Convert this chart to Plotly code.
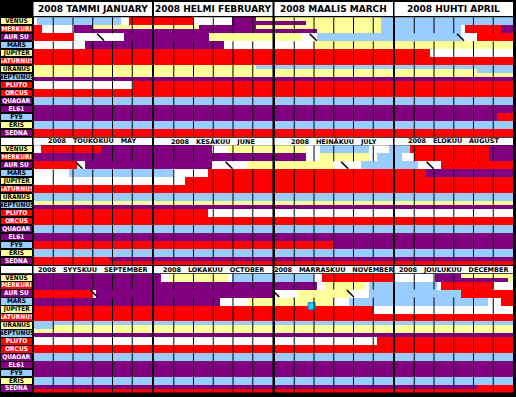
import plotly.graph_objects as go

W, H = 516, 397
COLORS = {"R": "#FF0000", "P": "#800080", "L": "#99CCFF", "Y": "#FFFF99", "W": "#FFFFFF"}

YEAR = "2008"
MONTHS_FI = ["TAMMI", "HELMI", "MAALIS", "HUHTI", "TOUKOKUU", "KESÄKUU",
             "HEINÄKUU", "ELOKUU", "SYYSKUU", "LOKAKUU", "MARRASKUU", "JOULUKUU"]
MONTHS_EN = ["JANUARY", "FEBRUARY", "MARCH", "APRIL", "MAY", "JUNE",
             "JULY", "AUGUST", "SEPTEMBER", "OCTOBER", "NOVEMBER", "DECEMBER"]
PLANETS = ["VENUS", "MERKURI", "AUR SU", "MARS", "JUPITER", "SATURNUS", "URANUS",
           "NEPTUNUS", "PLUTO", "ORCUS", "QUAOAR", "EL61", "FY9", "ERIS", "SEDNA"]
LABEL_BG = ["Y", "R", "P", "L", "Y", "R", "Y", "L", "R", "R", "P", "P", "L", "Y", "P"]

# segments per month: "colour start ..." (day units 0..30), "top | bottom" when halves differ
VENUS = ["W0 L0.8 W21.9 R24", "R0 W9.8 P19.8 Y25.7 | R0 W9.8 P19.8", "Y0 L26.75 | P0 Y7.75 L26.75",
         "L0", "W0 R1.8 P16.9", "P0 W14.8 Y18.75", "Y0 W7.75 L11.5 W23.8 L28.8", "L0 R3.75 P23.75",
         "P0", "P0 W1.75 Y3.75 W18.75 L19.8", "L0 W9.8 R11.9", "W0 P10 Y16.75 | W0 P10 Y28.6"]
MERKURI = ["R0 W2 P10 Y15 | R0 W2 P10", "Y0 P11.5 Y25.7 | P0", "Y0 L26.75 | P0 Y10.7 L26.75",
           "L0 W16.7 R17.75 P26.75", "P0", "P0", "P0 W7.75 Y11.5 W23.8 L25.7", "L0 W1.75 R4.8 P23.75",
           "P0", "P0", "P0 W10.7 Y12.75 W22.75 L23.8", "L0 W10.7 R11.75 W24.8"]
AUR_SU = ["R0 W10 P22.9", "P0 Y14", "Y0 W6.9 L10.7", "L0 W16.7 R20.7", "R0 W11 P12.9",
          "P0 W14.8 Y23.75", "Y0 W14.8 L21.75", "L0 W5.7 R11.75", "R0 W15 P15.8", "P0",
          "W0 Y5.7 W19 L23.8", "L0 R16.75"]
MARS = ["W0 P12.9", "P0 W17.75", "W0 Y9.8", "Y0", "W0 L8.9", "L0 W4.8 R13.6", "R0", "R0 P7.75",
        "P0", "P0 W16.75 Y23.75", "Y0 W14.8 L18.8", "L0 W23.6 R26.75"]
JUPITER = ["R0", "R0", "R0", "R0 W8.75", "W0", "W0 R7.75", "R0", "R0", "R0", "R0", "R0 W24.8", "W0"]
SATURNUS = ["R0"] * 12
URANUS = ["Y0", "Y0 L25.7 | Y0", "L0 | Y0", "L0 | Y0 L20.7", "L0", "L0", "L0", "L0",
          "L0 | L0 Y5", "L0 | Y0", "L0 | Y0", "L0 | Y0"]
NEPTUNUS = ["Y0 | P0"] * 12
PLUTO = ["W0 R25", "R0", "R0", "R0", "R0", "R0 W13.6", "W0", "W0", "W0", "W0", "W0 R25.7", "R0"]
ORCUS = ["R0"] * 12
QUAOAR = ["L0"] * 12
EL61 = ["P0"] * 12
FY9 = ["P0", "P0", "P0", "P0 R25.8", "R0", "R0", "R0 P14.8", "P0", "P0", "P0", "P0", "P0"]
ERIS = ["L0"] * 12
SEDNA = ["R0", "R0", "R0", "R0", "R0 P19 | R0", "P0 | R0", "P0 | R0", "P0 | R0", "P0 | R0",
         "P0 | R0", "P0 | R0", "P0 R20.7 | R0"]
ROWS = [VENUS, MERKURI, AUR_SU, MARS, JUPITER, SATURNUS, URANUS, NEPTUNUS, PLUTO, ORCUS,
        QUAOAR, EL61, FY9, ERIS, SEDNA]

HATCH_MONTH = [0, 2, 3, 4, 5, 6, 7, 8, 10, 10]
HATCH_DAY = [17, 9.8, 16.7, 11.5, 19, 17.75, 9, 15.3, 0.3, 19.2]
MARK_MONTH = [10]
MARK_DAY = [9.4]
MARK_ROW = [4.1]

SPAN = 30
GRID_DAYS = [5, 10, 15, 20, 25]

# ---- geometry (pixels) ----
PANEL_X0 = [33.5, 154, 274.5, 394.5]
PANEL_W = 118.5
BAND_Y = [(17.3, 137.3), (145.3, 265.3), (273.7, 392.5)]
HEAD_Y = [(2, 16), (137.8, 145), (266, 273.2)]


def parse(s):
    out = []
    toks = s.split()
    for i, t in enumerate(toks):
        c, a = t[0], float(t[1:])
        b = float(toks[i + 1][1:]) if i + 1 < len(toks) else SPAN
        out.append((c, a, b))
    return out


fig = go.Figure()
layout = {}
shapes = []
annotations = []


def px_x(v):
    return v / W


def px_y(v):
    return 1 - v / H


for m in range(12):
    band, col = divmod(m, 4)
    n = m + 1
    sfx = "" if n == 1 else str(n)
    xa, ya = "x" + sfx, "y" + sfx
    x0 = PANEL_X0[col]
    x1 = x0 + PANEL_W
    y0, y1 = BAND_Y[band]
    layout["xaxis" + sfx] = dict(domain=[px_x(x0), px_x(x1)], range=[0, SPAN], visible=False,
                                 fixedrange=True, anchor=ya)
    layout["yaxis" + sfx] = dict(domain=[px_y(y1), px_y(y0)], range=[15, 0], visible=False,
                                 fixedrange=True, anchor=xa)
    bars = {c: dict(y=[], x=[], base=[], w=[]) for c in COLORS}
    for r, row in enumerate(ROWS):
        s = row[m]
        if "|" in s:
            top, bot = [p.strip() for p in s.split("|")]
            halves = [(top, r + 0.25, 0.52), (bot, r + 0.75, 0.5)]
        else:
            halves = [(s, r + 0.5, 1.0)]
        for txt, yc, wd in halves:
            for c, a, b in parse(txt):
                d = bars[c]
                d["y"].append(yc)
                d["x"].append(b - a)
                d["base"].append(a)
                d["w"].append(wd)
    for c, d in bars.items():
        if not d["y"]:
            continue
        fig.add_trace(go.Bar(orientation="h", y=d["y"], x=d["x"], base=d["base"], width=d["w"],
                             marker=dict(color=COLORS[c], line=dict(width=0)),
                             xaxis=xa, yaxis=ya, hoverinfo="skip", showlegend=False))
    hd = [HATCH_DAY[i] for i in range(len(HATCH_DAY)) if HATCH_MONTH[i] == m]
    if hd:
        fig.add_trace(go.Scatter(x=hd, y=[2.5] * len(hd), mode="markers",
                                 marker=dict(symbol="line-nw", size=7, line=dict(width=1.6, color="black")),
                                 xaxis=xa, yaxis=ya, hoverinfo="skip", showlegend=False))
    md = [i for i in range(len(MARK_MONTH)) if MARK_MONTH[i] == m]
    if md:
        fig.add_trace(go.Scatter(x=[MARK_DAY[i] for i in md], y=[MARK_ROW[i] for i in md], mode="markers",
                                 marker=dict(symbol="square", size=7, color="#00E0F0",
                                             line=dict(width=1, color="#3366FF")),
                                 xaxis=xa, yaxis=ya, hoverinfo="skip", showlegend=False))
    for g in GRID_DAYS:
        for (ya0, ya1) in [(0, 2), (3, 15)]:
            shapes.append(dict(type="line", xref=xa, yref=ya, x0=g, x1=g, y0=ya0, y1=ya1,
                               line=dict(color="black", width=1), layer="above"))
    # header box
    hy0, hy1 = HEAD_Y[band]
    shapes.append(dict(type="rect", xref="paper", yref="paper", x0=px_x(x0), x1=px_x(x1),
                       y0=px_y(hy1), y1=px_y(hy0), fillcolor="white", line=dict(width=0), layer="below"))
    if band == 0:
        title = f"<b>{YEAR} {MONTHS_FI[m]} {MONTHS_EN[m]}</b>"
        fsize = 9
    else:
        title = f"<b>{YEAR}   {MONTHS_FI[m]}   {MONTHS_EN[m]}</b>"
        fsize = 6.5
    annotations.append(dict(xref="paper", yref="paper", x=px_x((x0 + x1) / 2), y=px_y((hy0 + hy1) / 2),
                            text=title, showarrow=False, xanchor="center", yanchor="middle",
                            font=dict(family="DejaVu Sans", size=fsize, color="black")))

# label columns
for band in range(3):
    n = 13 + band
    sfx = str(n)
    xa, ya = "x" + sfx, "y" + sfx
    y0, y1 = BAND_Y[band]
    layout["xaxis" + sfx] = dict(domain=[px_x(1), px_x(32)], range=[0, 1], visible=False,
                                 fixedrange=True, anchor=ya)
    layout["yaxis" + sfx] = dict(domain=[px_y(y1), px_y(y0)], range=[15, 0], visible=False,
                                 fixedrange=True, anchor=xa)
    fig.add_trace(go.Bar(orientation="h", y=[r + 0.5 for r in range(15)], x=[1] * 15, width=0.86,
                         marker=dict(color=[COLORS[c] for c in LABEL_BG], line=dict(width=0)),
                         text=[f"<b>{p}</b>" for p in PLANETS], textposition="inside",
                         insidetextanchor="middle", textangle=0, constraintext="none",
                         textfont=dict(family="DejaVu Sans Condensed", size=6.5,
                                       color=["black" if c in "YL" else "white" for c in LABEL_BG]),
                         xaxis=xa, yaxis=ya, hoverinfo="skip", showlegend=False))
    if band > 0:
        hy0, hy1 = HEAD_Y[band]
        shapes.append(dict(type="rect", xref="paper", yref="paper", x0=px_x(1), x1=px_x(32),
                           y0=px_y(hy1), y1=px_y(hy0), fillcolor="white", line=dict(width=0), layer="below"))

fig.update_layout(width=W, height=H, margin=dict(l=0, r=0, t=0, b=0, pad=0),
                  paper_bgcolor="black", plot_bgcolor="black", barmode="overlay",
                  bargap=0, shapes=shapes, annotations=annotations, showlegend=False, **layout)
fig.write_html("out.html", config={"displayModeBar": False},
               post_script="document.body.style.margin='0';document.body.style.padding='0';"
                           "document.body.style.background='black';")
